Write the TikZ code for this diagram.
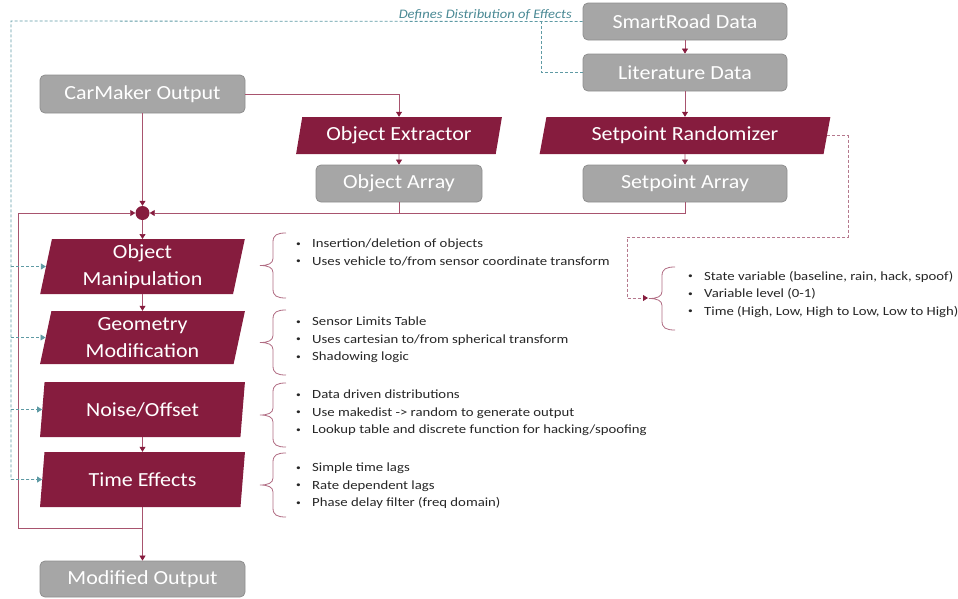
\documentclass[tikz,border=0pt]{standalone}
\usepackage{fontspec}
\setmainfont{Carlito}
\newfontfamily\boxfont[FakeStretch=1.1]{Carlito}
\newfontfamily\listfont[FakeStretch=1.18]{Carlito}
\newfontfamily\lblfont[FakeStretch=1.12]{Carlito}
\usetikzlibrary{shapes.geometric,arrows.meta}
\definecolor{maroonc}{HTML}{861C3E}
\definecolor{boxgray}{HTML}{A6A6A6}
\definecolor{boxedge}{HTML}{8F8F8F}
\definecolor{linecol}{HTML}{A8536E}
\definecolor{tealc}{HTML}{5E9AA4}
\definecolor{tealtext}{HTML}{4A8994}
\definecolor{dashred}{HTML}{B5788D}
\definecolor{bracec}{HTML}{B06B82}
\definecolor{bodytext}{HTML}{262626}
\newcommand\mybrace[3]{%
  \pgfmathsetmacro\bmid{(#2+#3)/2}%
  \draw[bracestyle] (#1+13,#2) .. controls (#1+4,#2) and (#1,#2+2) .. (#1,#2+9)
    -- (#1,\bmid-7) .. controls (#1,\bmid-2) and (#1-5,\bmid) .. (#1-13,\bmid)
    .. controls (#1-5,\bmid) and (#1,\bmid+2) .. (#1,\bmid+7)
    -- (#1,#3-9) .. controls (#1,#3-2) and (#1+4,#3) .. (#1+13,#3);}
\newcommand\bl[1]{\makebox[16pt][l]{\raisebox{1.5pt}{\fontsize{8}{8}\selectfont\textbullet}}#1}
\begin{document}
\begin{tikzpicture}[x=1pt,y=-1pt,
  graybox/.style={rectangle, rounded corners=5pt, fill=boxgray, draw=boxedge, line width=0.8pt,
    text=white, font=\boxfont\fontsize{20}{24}\selectfont, minimum height=37pt, inner sep=0pt},
  para/.style={trapezium, trapezium left angle=75, trapezium right angle=105,
    trapezium stretches=true, fill=maroonc, draw=none, text=white,
    font=\boxfont\fontsize{20}{27}\selectfont, align=center, inner sep=0pt, minimum height=37pt},
  parab/.style={para, trapezium left angle=80, trapezium right angle=100,
    minimum width=205pt, minimum height=55pt},
  conn/.style={draw=linecol, line width=0.7pt},
  arr/.style={conn, -{Triangle[length=5pt,width=6pt,color=maroonc]}},
  tealdash/.style={draw=tealc, line width=0.8pt, dash pattern=on 3pt off 2pt},
  tealarr/.style={tealdash, -{Triangle[length=5pt,width=6pt,color=tealc]}},
  reddash/.style={draw=dashred, line width=0.8pt, dash pattern=on 3pt off 2pt,
    -{Triangle[length=5pt,width=6pt,color=maroonc]}},
  bracestyle/.style={draw=bracec, line width=0.8pt},
  listtext/.style={font=\listfont\fontsize{12.5}{17.5}\selectfont, text=bodytext, align=left,
    anchor=west, inner sep=0pt}
]
\useasboundingbox (0,0) rectangle (958,598);

% boxes
\node[graybox, minimum width=204pt] (srd) at (685,21.5) {SmartRoad Data};
\node[graybox, minimum width=204pt] (lit) at (685,72.5) {Literature Data};
\node[graybox, minimum width=205pt, minimum height=38pt] (cmo) at (142.5,94) {CarMaker Output};
\node[para, minimum width=206pt] (oex) at (399,135.5) {Object Extractor};
\node[graybox, minimum width=166pt] (oar) at (399,183.5) {Object Array};
\node[para, minimum width=291pt] (spr) at (685,135.5) {Setpoint Randomizer};
\node[graybox, minimum width=204pt] (sar) at (685,183.5) {Setpoint Array};
\node[circle, fill=maroonc, minimum size=14pt, inner sep=0pt] (j) at (142.5,213) {};
\node[parab] (om) at (142.5,266.5) {Object\\Manipulation};
\node[parab, minimum height=53pt] (gm) at (142.5,337.5) {Geometry\\Modification};
\node[parab] (no) at (142.5,409.5) {Noise/Offset};
\node[parab] (te) at (142.5,479.5) {Time Effects};
\node[graybox, minimum width=205pt, minimum height=36pt] (mo) at (142.5,579) {Modified Output};

% label
\node[font=\lblfont\fontsize{13}{15}\selectfont\itshape, text=tealtext, anchor=base east, inner sep=0pt]
  (lbl) at (572,18) {Defines Distribution of Effects};

% coordinates
\coordinate (tl) at (11,21);
\coordinate (tb) at (11,479.5);
\coordinate (lc) at (541,21);
\coordinate (fb1) at (142.5,528);
\coordinate (fb2) at (18,528);
\coordinate (r1) at (848,237);
\coordinate (r2) at (627,237);
\coordinate (rb) at (648,298);

% solid connectors
\draw[arr] (srd) -- (lit);
\draw[arr] (lit) -- (spr);
\draw[arr] (spr) -- (sar);
\draw[arr] (cmo.east) -| (oex.north);
\draw[arr] (oex) -- (oar);
\draw[arr] (cmo) -- (j);
\draw[arr] (oar.south) |- (j.east);
\draw[conn] (sar.south) |- (oar.south |- j);
\draw[arr] (j) -- (om.north |- 0,239);
\draw[arr] (om) -- (gm);
\draw[arr] (no) -- (te);
\draw[arr] (te) -- (mo);
\draw[arr] (fb1) -- (fb2) |- (j.west);

% teal dashed
\draw[tealdash] (srd.west) -- (tl) -- (tb);
\draw[tealdash] (lit.west) -| (lc);
\draw[tealarr] (om.west -| tl) -- (om.west);
\draw[tealarr] (gm.west -| tl) -- (gm.west);
\draw[tealarr] (no.west -| tl) -- (no.west);
\draw[tealarr] (tb) -- (te.west);

% red dashed
\draw[reddash] (spr.east) -| (r1) -- (r2) |- (rb);

% braces
\mybrace{273}{233}{298}
\mybrace{273}{310}{375}
\mybrace{273}{383}{447}
\mybrace{273}{453}{517}
\mybrace{662}{267}{330}

% lists
\node[listtext] (l1) at (296,252.5) {\bl{Insertion/deletion of objects}\\\bl{Uses vehicle to/from sensor coordinate transform}};
\node[listtext] (l2) at (296,340) {\bl{Sensor Limits Table}\\\bl{Uses cartesian to/from spherical transform}\\\bl{Shadowing logic}};
\node[listtext] (l3) at (296,413) {\bl{Data driven distributions}\\\bl{Use makedist -> random to generate output}\\\bl{Lookup table and discrete function for hacking/spoofing}};
\node[listtext] (l4) at (296,486) {\bl{Simple time lags}\\\bl{Rate dependent lags}\\\bl{Phase delay filter (freq domain)}};
\node[listtext] (lr) at (688,294) {\bl{State variable (baseline, rain, hack, spoof)}\\\bl{Variable level (0-1)}\\\bl{Time (High, Low, High to Low, Low to High)}};
\end{tikzpicture}
\end{document}
